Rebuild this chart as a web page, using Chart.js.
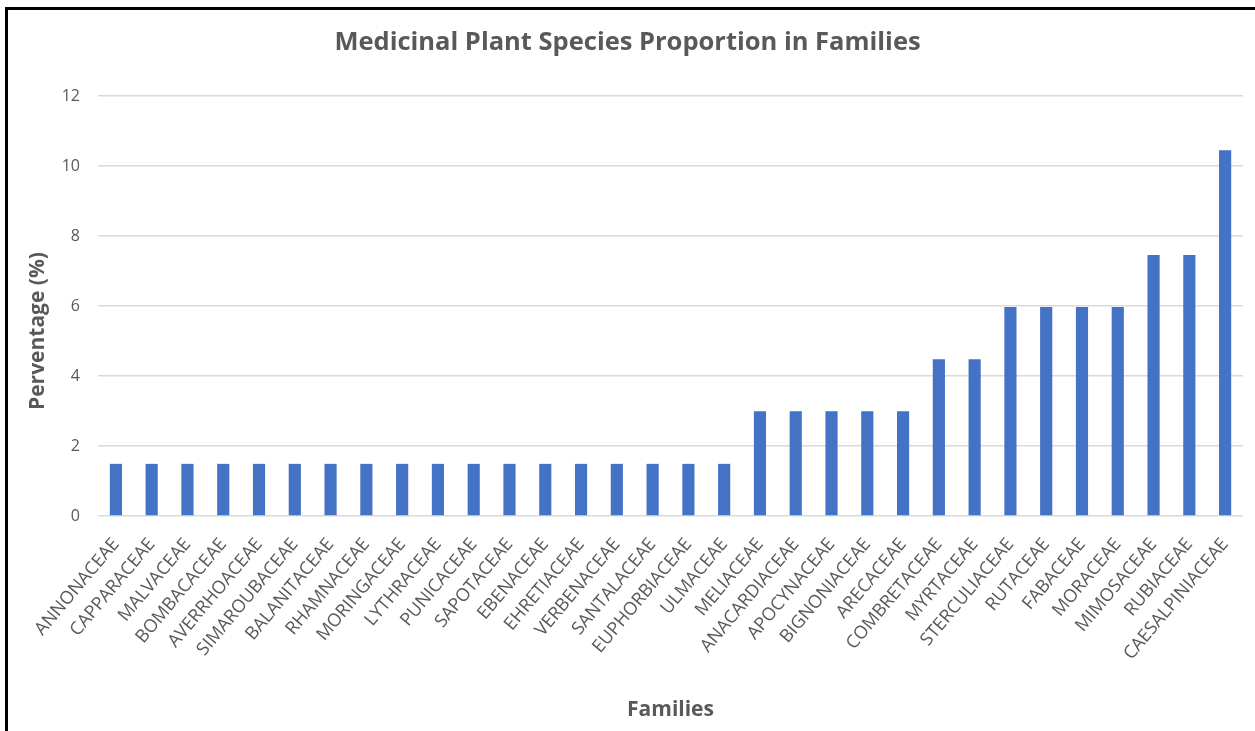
<!DOCTYPE html>
<html>
<head>
<meta charset="utf-8">
<title>Medicinal Plant Species Proportion in Families</title>
<script src="https://cdn.jsdelivr.net/npm/chart.js@4/dist/chart.umd.min.js"></script>
<style>
  html, body { margin: 0; padding: 0; background: #ffffff; }
  #wrap { position: relative; width: 1255px; height: 731px; overflow: hidden; }
  #frame {
    position: absolute; left: 5px; top: 7px; right: -10px; bottom: -10px;
    border-left: 3px solid #000; border-top: 3px solid #000;
  }
  #chart { position: absolute; left: 0; top: 0; }
</style>
</head>
<body>
<div id="wrap">
  <div id="frame"></div>
  <canvas id="chart" width="1255" height="731"></canvas>
</div>
<script>
// Plant families, ordered by share of medicinal species
const families = [
  "ANNONACEAE", "CAPPARACEAE", "MALVACEAE", "BOMBACACEAE", "AVERRHOACEAE",
  "SIMAROUBACEAE", "BALANITACEAE", "RHAMNACEAE", "MORINGACEAE", "LYTHRACEAE",
  "PUNICACEAE", "SAPOTACEAE", "EBENACEAE", "EHRETIACEAE", "VERBENACEAE",
  "SANTALACEAE", "EUPHORBIACEAE", "ULMACEAE", "MELIACEAE", "ANACARDIACEAE",
  "APOCYNACEAE", "BIGNONIACEAE", "ARECACEAE", "COMBRETACEAE", "MYRTACEAE",
  "STERCULIACEAE", "RUTACEAE", "FABACEAE", "MORACEAE", "MIMOSACEAE",
  "RUBIACEAE", "CAESALPINIACEAE"
];

// Percentage of species in each family
const percentages = [
  1.49, 1.49, 1.49, 1.49, 1.49, 1.49, 1.49, 1.49, 1.49, 1.49,
  1.49, 1.49, 1.49, 1.49, 1.49, 1.49, 1.49, 1.49, 2.99, 2.99,
  2.99, 2.99, 2.99, 4.48, 4.48, 5.97, 5.97, 5.97, 5.97, 7.46,
  7.46, 10.45
];

// Value axis ticks
const yTicks = [0, 2, 4, 6, 8, 10, 12];
const yAxisTitle = "Perventage (%)";

const TEXT = "#595959";
const FONT = "'Open Sans', 'DejaVu Sans', sans-serif";

// Vertical axis title, drawn a little below the plot's middle
const yTitlePlugin = {
  id: "yTitle",
  afterDraw(chart) {
    const ctx = chart.ctx;
    ctx.save();
    ctx.translate(38, 331);
    ctx.rotate(-Math.PI / 2);
    ctx.fillStyle = TEXT;
    ctx.font = "bold 21px " + FONT;
    ctx.textAlign = "center";
    ctx.textBaseline = "middle";
    ctx.fillText(yAxisTitle, 0, 0);
    ctx.restore();
  }
};

new Chart(document.getElementById("chart"), {
  type: "bar",
  data: {
    labels: families,
    datasets: [{
      label: "Percentage",
      data: percentages,
      backgroundColor: "#4472C4",
      borderWidth: 0,
      barPercentage: 0.34,
      categoryPercentage: 1.0
    }]
  },
  options: {
    responsive: false,
    animation: false,
    layout: { padding: { left: 12, right: 12, top: 0, bottom: 0 } },
    plugins: {
      legend: { display: false },
      tooltip: { enabled: false },
      title: {
        display: true,
        text: "Medicinal Plant Species Proportion in Families",
        color: TEXT,
        font: { family: FONT, size: 25.5, weight: "bold" },
        padding: { top: 27, bottom: 38.5 }
      }
    },
    scales: {
      x: {
        grid: { display: false },
        border: { display: false },
        ticks: {
          color: TEXT,
          font: { family: FONT, size: 18 },
          maxRotation: 50,
          minRotation: 50,
          autoSkip: false,
          padding: 10
        },
        title: {
          display: true,
          text: "Families",
          color: TEXT,
          font: { family: FONT, size: 21, weight: "bold" },
          padding: { top: 4, bottom: 8 }
        },
        afterFit(scale) { scale.height = 215; }
      },
      y: {
        min: 0,
        max: 12,
        afterBuildTicks(scale) { scale.ticks = yTicks.map(v => ({ value: v })); },
        grid: { color: "#d9d9d9", lineWidth: 1.5, drawTicks: false },
        border: { display: false },
        ticks: {
          color: TEXT,
          font: { family: FONT, size: 16 },
          padding: 18
        },
        title: { display: false },
        afterFit(scale) { scale.width = 86; }
      }
    }
  },
  plugins: [yTitlePlugin]
});
</script>
</body>
</html>
